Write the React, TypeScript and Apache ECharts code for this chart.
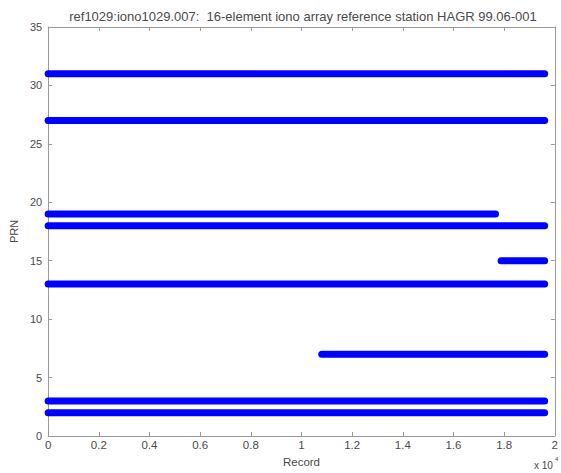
import React, { useEffect, useRef } from "react";
import * as echarts from "echarts";

// Tracked satellites and the record span over which each was seen
const prns = [2, 3, 7, 13, 15, 18, 19, 27, 31];
const recordStart = [0, 0, 10800, 0, 17880, 0, 0, 0, 0];
const recordEnd = [19600, 19600, 19600, 19600, 19600, 19600, 17660, 19600, 19600];

const titleText =
  "ref1029:iono1029.007:  16-element iono array reference station HAGR 99.06-001";
const xName = "Record";
const yName = "PRN";

const axisGray = "#9a9a9a";
const textGray = "#4a4a4a";
const font = "Liberation Sans, Arial, sans-serif";

export default function App() {
  const ref = useRef<HTMLDivElement>(null);

  useEffect(() => {
    if (!ref.current) return;
    const chart = echarts.init(ref.current, undefined, { renderer: "svg" });

    const series = prns.map((p, i) => ({
      type: "line",
      data: [
        [recordStart[i], p],
        [recordEnd[i], p],
      ],
      showSymbol: false,
      lineStyle: { color: "#0000ff", width: 7, cap: "round" },
      silent: true,
    }));

    const fmtX = (v: number) => {
      if (v === 0) return "0";
      return String(parseFloat((v / 10000).toFixed(1)));
    };

    const baseAxis = {
      axisLine: { show: true, onZero: false, lineStyle: { color: axisGray, width: 1 } },
      axisTick: { show: true, inside: true, length: 4, lineStyle: { color: axisGray } },
      splitLine: { show: false },
    };

    chart.setOption({
      animation: false,
      backgroundColor: "#ffffff",
      title: {
        text: titleText,
        left: 298,
        top: 5,
        textAlign: "center",
        textStyle: { fontFamily: font, fontSize: 13, fontWeight: "normal", color: textGray },
      },
      grid: { left: 41, right: 3, top: 27, bottom: 35, containLabel: false },
      xAxis: [
        {
          ...baseAxis,
          type: "value",
          min: 0,
          max: 20000,
          interval: 2000,
          position: "bottom",
          axisLabel: { formatter: fmtX, color: textGray, fontSize: 11.5, fontFamily: font, margin: 3 },
          name: xName,
          nameLocation: "middle",
          nameGap: 20,
          nameTextStyle: { color: textGray, fontSize: 11.5, fontFamily: font },
        },
        {
          ...baseAxis,
          type: "value",
          min: 0,
          max: 20000,
          interval: 2000,
          position: "top",
          axisLabel: { show: false },
        },
      ],
      yAxis: [
        {
          ...baseAxis,
          type: "value",
          min: 0,
          max: 35,
          interval: 5,
          position: "left",
          axisLabel: { color: textGray, fontSize: 11, fontFamily: font, margin: 6 },
          name: yName,
          nameLocation: "middle",
          nameGap: 24,
          nameRotate: 90,
          nameTextStyle: { color: textGray, fontSize: 11, fontFamily: font },
        },
        {
          ...baseAxis,
          type: "value",
          min: 0,
          max: 35,
          interval: 5,
          position: "right",
          axisLabel: { show: false },
        },
      ],
      graphic: [
        {
          type: "text",
          x: 534,
          y: 460,
          style: { text: "x 10", fill: textGray, fontSize: 10, fontFamily: font },
        },
        {
          type: "text",
          x: 555,
          y: 456,
          style: { text: "4", fill: textGray, fontSize: 6, fontFamily: font },
        },
      ],
      series,
    });

    return () => chart.dispose();
  }, []);

  return (
    <div
      ref={ref}
      style={{ position: "absolute", left: 0, top: 0, width: 561, height: 473 }}
    />
  );
}
